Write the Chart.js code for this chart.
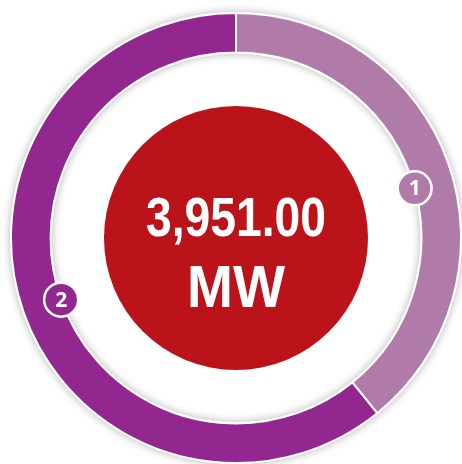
<!DOCTYPE html>
<html><head><meta charset="utf-8">
<script src="https://cdn.jsdelivr.net/npm/chart.js@4/dist/chart.umd.min.js"></script>
<style>html,body{margin:0;padding:0;background:#fff;overflow:hidden}#wrap{width:462px;height:464px;position:relative}</style>
</head><body><div id="wrap"><canvas id="c" width="462" height="464"></canvas></div>
<script>
const categories = ['1', '2'];
const valuesMW = [1549, 2402];
const unitLabel = 'MW';
const colors = ['#b07aa9', '#92278f'];

const total = valuesMW.reduce((a, b) => a + b, 0);
const totalLabel = total.toLocaleString('en-US', {minimumFractionDigits: 2, maximumFractionDigits: 2});

const ringShadow = {
  id: 'ringShadow',
  beforeDatasetsDraw(chart) {
    const arc = chart.getDatasetMeta(0).data[0];
    if (!arc) return;
    const {x, y, outerRadius, innerRadius} = arc.getProps(['x', 'y', 'outerRadius', 'innerRadius'], true);
    const ctx = chart.ctx;
    ctx.save();
    ctx.shadowColor = 'rgba(0,0,0,0.30)';
    ctx.shadowBlur = 8;
    ctx.beginPath();
    ctx.arc(x, y, outerRadius + 1, 0, Math.PI * 2);
    ctx.arc(x, y, innerRadius - 1, 0, Math.PI * 2, true);
    ctx.closePath();
    ctx.fillStyle = '#ffffff';
    ctx.fill();
    ctx.restore();
  }
};

function condensedText(ctx, text, cx, baseY, font, targetW) {
  ctx.font = font;
  const w = ctx.measureText(text).width;
  const s = targetW / w;
  ctx.save();
  ctx.translate(cx, baseY);
  ctx.scale(s, 1);
  ctx.textAlign = 'center';
  ctx.textBaseline = 'alphabetic';
  ctx.fillText(text, 0, 0);
  ctx.restore();
}

const centerAndBadges = {
  id: 'centerAndBadges',
  afterDatasetsDraw(chart, args, opts) {
    const meta = chart.getDatasetMeta(0);
    const ctx = chart.ctx;
    const a0 = meta.data[0];
    const {x, y, innerRadius} = a0.getProps(['x', 'y', 'innerRadius'], true);
    // red centre disc
    ctx.save();
    ctx.beginPath();
    ctx.arc(x, y, innerRadius * 0.712, 0, Math.PI * 2);
    ctx.fillStyle = '#ba141a';
    ctx.fill();
    ctx.fillStyle = '#ffffff';
    condensedText(ctx, totalLabel, x, y - 2, 'bold 56px "Liberation Sans", Arial, sans-serif', 180);
    condensedText(ctx, unitLabel, x, y + 69, 'bold 59px "Liberation Sans", Arial, sans-serif', 98);
    ctx.restore();
    // numbered badges
    meta.data.forEach((arc, i) => {
      const p = arc.getProps(['startAngle', 'endAngle', 'innerRadius'], true);
      const ang = (p.startAngle + p.endAngle) / 2 + (opts.angleOffsets[i] || 0) * Math.PI / 180;
      const bx = x + Math.cos(ang) * p.innerRadius;
      const by = y + Math.sin(ang) * p.innerRadius;
      ctx.save();
      ctx.beginPath();
      ctx.arc(bx, by, 17, 0, Math.PI * 2);
      ctx.fillStyle = colors[i];
      ctx.fill();
      ctx.lineWidth = 2.5;
      ctx.strokeStyle = '#ffffff';
      ctx.stroke();
      ctx.fillStyle = '#ffffff';
      ctx.font = 'bold 21px "Open Sans", sans-serif';
      ctx.textAlign = 'center';
      ctx.textBaseline = 'middle';
      ctx.fillText(categories[i], bx, by + 1);
      ctx.restore();
    });
  }
};

new Chart(document.getElementById('c'), {
  type: 'doughnut',
  data: {
    labels: categories,
    datasets: [{
      data: valuesMW,
      backgroundColor: colors,
      borderColor: '#ffffff',
      borderWidth: 2,
      hoverOffset: 0
    }]
  },
  options: {
    responsive: false,
    animation: false,
    cutout: '82.4%',
    layout: {padding: {left: 10, top: 12, right: 0, bottom: 0}},
    plugins: {
      legend: {display: false},
      tooltip: {enabled: false},
      centerAndBadges: {angleOffsets: [3.9, 0]}
    }
  },
  plugins: [ringShadow, centerAndBadges]
});
</script>
</body></html>
